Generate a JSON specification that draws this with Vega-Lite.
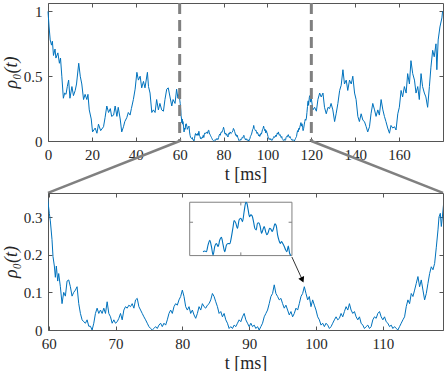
{
  "$schema": "https://vega.github.io/schema/vega-lite/v6.json",
  "padding": {"left": 1, "top": 1, "right": 3, "bottom": 0},
  "background": "white",
  "datasets": {
    "series": [
      {"t":0,"v":1.0},{"t":0.5,"v":0.88},{"t":1,"v":0.78},{"t":1.6,"v":0.74},{"t":2.0,"v":0.77},{"t":2.5,"v":0.66},{"t":3.2,"v":0.71},{"t":3.6,"v":0.64},{"t":4.5,"v":0.68},{"t":5.2,"v":0.6},{"t":5.7,"v":0.64},{"t":6.3,"v":0.5},{"t":7.0,"v":0.33},{"t":7.6,"v":0.37},{"t":8.2,"v":0.36},{"t":8.8,"v":0.42},{"t":9.4,"v":0.47},{"t":10.0,"v":0.33},{"t":10.9,"v":0.42},{"t":11.6,"v":0.35},{"t":12.4,"v":0.39},{"t":13.0,"v":0.44},{"t":14.0,"v":0.6},{"t":14.7,"v":0.5},{"t":15.4,"v":0.44},{"t":16.2,"v":0.32},{"t":16.9,"v":0.36},{"t":17.7,"v":0.32},{"t":18.2,"v":0.36},{"t":18.8,"v":0.24},{"t":19.7,"v":0.17},{"t":20.3,"v":0.07},{"t":21.5,"v":0.1},{"t":22.3,"v":0.06},{"t":23.0,"v":0.13},{"t":24.0,"v":0.08},{"t":25.3,"v":0.11},{"t":26.0,"v":0.18},{"t":26.8,"v":0.27},{"t":27.6,"v":0.22},{"t":28.4,"v":0.25},{"t":29.0,"v":0.19},{"t":29.9,"v":0.2},{"t":30.6,"v":0.27},{"t":31.4,"v":0.19},{"t":32.0,"v":0.26},{"t":32.9,"v":0.17},{"t":33.6,"v":0.07},{"t":34.4,"v":0.11},{"t":35.0,"v":0.15},{"t":35.9,"v":0.18},{"t":36.6,"v":0.22},{"t":37.4,"v":0.2},{"t":38.0,"v":0.25},{"t":38.9,"v":0.32},{"t":39.7,"v":0.4},{"t":40.5,"v":0.53},{"t":41.2,"v":0.47},{"t":42.0,"v":0.5},{"t":42.7,"v":0.41},{"t":43.5,"v":0.46},{"t":44.2,"v":0.41},{"t":45.3,"v":0.53},{"t":45.8,"v":0.42},{"t":46.5,"v":0.37},{"t":47.3,"v":0.22},{"t":48.0,"v":0.24},{"t":48.8,"v":0.22},{"t":49.5,"v":0.32},{"t":50.3,"v":0.24},{"t":51.0,"v":0.29},{"t":51.8,"v":0.24},{"t":52.6,"v":0.23},{"t":53.3,"v":0.32},{"t":54.1,"v":0.4},{"t":54.8,"v":0.41},{"t":55.6,"v":0.34},{"t":56.4,"v":0.27},{"t":57.0,"v":0.32},{"t":57.9,"v":0.29},{"t":58.6,"v":0.4},{"t":59.2,"v":0.33},{"t":59.75,"v":0.363},
      {"t":60.1,"v":0.31},{"t":60.25,"v":0.29},{"t":60.5,"v":0.24},{"t":60.65,"v":0.195},{"t":60.85,"v":0.17},{"t":61.0,"v":0.14},{"t":61.15,"v":0.17},{"t":61.35,"v":0.13},{"t":61.5,"v":0.15},{"t":61.75,"v":0.115},{"t":62.0,"v":0.07},{"t":62.25,"v":0.1},{"t":62.5,"v":0.09},{"t":62.75,"v":0.13},{"t":63.0,"v":0.133},{"t":63.25,"v":0.115},{"t":63.5,"v":0.09},{"t":63.75,"v":0.1},{"t":64.0,"v":0.106},{"t":64.25,"v":0.115},{"t":64.5,"v":0.07},{"t":64.75,"v":0.044},{"t":65.0,"v":0.027},{"t":65.25,"v":0.022},{"t":65.5,"v":0.018},{"t":65.75,"v":0.027},{"t":66.0,"v":0.01},{"t":66.25,"v":0.01},{"t":66.5,"v":0.0},{"t":66.75,"v":0.018},{"t":67.0,"v":0.044},{"t":67.25,"v":0.058},{"t":67.5,"v":0.044},{"t":67.75,"v":0.053},{"t":68.0,"v":0.044},{"t":68.25,"v":0.058},{"t":68.5,"v":0.044},{"t":68.75,"v":0.075},{"t":69.0,"v":0.044},{"t":69.25,"v":0.035},{"t":69.5,"v":0.018},{"t":69.75,"v":0.027},{"t":70.0,"v":0.018},{"t":70.25,"v":0.022},{"t":70.5,"v":0.031},{"t":70.75,"v":0.044},{"t":71.0,"v":0.027},{"t":71.25,"v":0.053},{"t":71.5,"v":0.062},{"t":71.75,"v":0.058},{"t":72.0,"v":0.066},{"t":72.25,"v":0.062},{"t":72.5,"v":0.07},{"t":72.75,"v":0.058},{"t":73.0,"v":0.08},{"t":73.25,"v":0.084},{"t":73.5,"v":0.062},{"t":73.75,"v":0.053},{"t":74.0,"v":0.044},{"t":74.25,"v":0.035},{"t":74.5,"v":0.027},{"t":74.75,"v":0.018},{"t":75.0,"v":0.009},{"t":75.25,"v":0.004},{"t":75.5,"v":0.0},{"t":75.75,"v":0.004},{"t":76.0,"v":0.009},{"t":76.25,"v":0.004},{"t":76.5,"v":0.013},{"t":76.75,"v":0.018},{"t":77.0,"v":0.009},{"t":77.25,"v":0.018},{"t":77.5,"v":0.013},{"t":77.75,"v":0.027},{"t":78.0,"v":0.044},{"t":78.25,"v":0.053},{"t":78.5,"v":0.044},{"t":78.75,"v":0.062},{"t":79.0,"v":0.07},{"t":79.25,"v":0.066},{"t":79.5,"v":0.08},{"t":79.75,"v":0.089},{"t":80.0,"v":0.106},{"t":80.25,"v":0.089},{"t":80.5,"v":0.062},{"t":80.75,"v":0.053},{"t":81.0,"v":0.062},{"t":81.25,"v":0.044},{"t":81.5,"v":0.053},{"t":81.75,"v":0.04},{"t":82.0,"v":0.031},{"t":82.25,"v":0.044},{"t":82.5,"v":0.062},{"t":82.75,"v":0.053},{"t":83.0,"v":0.07},{"t":83.25,"v":0.062},{"t":83.5,"v":0.058},{"t":83.75,"v":0.066},{"t":84.0,"v":0.07},{"t":84.25,"v":0.08},{"t":84.5,"v":0.097},{"t":84.75,"v":0.089},{"t":85.0,"v":0.075},{"t":85.25,"v":0.062},{"t":85.5,"v":0.044},{"t":85.75,"v":0.049},{"t":86.0,"v":0.035},{"t":86.25,"v":0.044},{"t":86.5,"v":0.027},{"t":86.75,"v":0.018},{"t":87.0,"v":0.004},{"t":87.25,"v":0.009},{"t":87.5,"v":0.004},{"t":87.75,"v":0.013},{"t":88.0,"v":0.009},{"t":88.25,"v":0.018},{"t":88.5,"v":0.027},{"t":88.75,"v":0.022},{"t":89.0,"v":0.035},{"t":89.25,"v":0.044},{"t":89.5,"v":0.027},{"t":89.75,"v":0.018},{"t":90.0,"v":0.009},{"t":90.25,"v":0.018},{"t":90.5,"v":0.009},{"t":90.75,"v":0.013},{"t":91.0,"v":0.004},{"t":91.25,"v":0.009},{"t":91.5,"v":0.0},{"t":91.75,"v":0.009},{"t":92.0,"v":0.018},{"t":92.25,"v":0.035},{"t":92.5,"v":0.044},{"t":92.75,"v":0.053},{"t":93.0,"v":0.07},{"t":93.25,"v":0.089},{"t":93.5,"v":0.097},{"t":93.75,"v":0.12},{"t":94.0,"v":0.097},{"t":94.25,"v":0.089},{"t":94.5,"v":0.08},{"t":94.75,"v":0.084},{"t":95.0,"v":0.07},{"t":95.25,"v":0.058},{"t":95.5,"v":0.066},{"t":95.75,"v":0.053},{"t":96.0,"v":0.04},{"t":96.25,"v":0.049},{"t":96.5,"v":0.035},{"t":96.75,"v":0.044},{"t":97.0,"v":0.058},{"t":97.25,"v":0.053},{"t":97.5,"v":0.07},{"t":97.75,"v":0.089},{"t":98.0,"v":0.097},{"t":98.25,"v":0.115},{"t":98.5,"v":0.097},{"t":98.75,"v":0.08},{"t":99.0,"v":0.089},{"t":99.25,"v":0.062},{"t":99.5,"v":0.08},{"t":99.75,"v":0.066},{"t":100.0,"v":0.053},{"t":100.25,"v":0.035},{"t":100.5,"v":0.027},{"t":100.75,"v":0.013},{"t":101.0,"v":0.018},{"t":101.25,"v":0.009},{"t":101.5,"v":0.018},{"t":101.75,"v":0.013},{"t":102.0,"v":0.004},{"t":102.25,"v":0.009},{"t":102.5,"v":0.018},{"t":102.75,"v":0.027},{"t":103.0,"v":0.035},{"t":103.25,"v":0.027},{"t":103.5,"v":0.031},{"t":103.75,"v":0.044},{"t":104.0,"v":0.035},{"t":104.25,"v":0.049},{"t":104.5,"v":0.062},{"t":104.75,"v":0.053},{"t":105.0,"v":0.07},{"t":105.25,"v":0.053},{"t":105.5,"v":0.044},{"t":105.75,"v":0.049},{"t":106.0,"v":0.035},{"t":106.25,"v":0.027},{"t":106.5,"v":0.035},{"t":106.75,"v":0.018},{"t":107.0,"v":0.013},{"t":107.25,"v":0.004},{"t":107.5,"v":0.009},{"t":107.75,"v":0.013},{"t":108.0,"v":0.004},{"t":108.25,"v":0.009},{"t":108.5,"v":0.027},{"t":108.75,"v":0.035},{"t":109.0,"v":0.031},{"t":109.25,"v":0.044},{"t":109.5,"v":0.049},{"t":109.75,"v":0.035},{"t":110.0,"v":0.027},{"t":110.25,"v":0.035},{"t":110.5,"v":0.022},{"t":110.75,"v":0.018},{"t":111.0,"v":0.009},{"t":111.25,"v":0.013},{"t":111.5,"v":0.004},{"t":111.75,"v":0.009},{"t":112.0,"v":0.004},{"t":112.25,"v":0.0},{"t":112.5,"v":0.009},{"t":112.75,"v":0.018},{"t":113.0,"v":0.027},{"t":113.25,"v":0.035},{"t":113.5,"v":0.062},{"t":113.75,"v":0.08},{"t":114.0,"v":0.07},{"t":114.25,"v":0.097},{"t":114.5,"v":0.089},{"t":114.75,"v":0.106},{"t":115.0,"v":0.124},{"t":115.25,"v":0.142},{"t":115.5,"v":0.115},{"t":115.75,"v":0.133},{"t":116.0,"v":0.106},{"t":116.25,"v":0.08},{"t":116.5,"v":0.097},{"t":116.75,"v":0.124},{"t":117.0,"v":0.15},{"t":117.25,"v":0.168},{"t":117.5,"v":0.16},{"t":117.75,"v":0.177},{"t":118.0,"v":0.22},{"t":118.25,"v":0.266},{"t":118.4,"v":0.3},{"t":118.6,"v":0.31},{"t":118.75,"v":0.275},{"t":118.9,"v":0.3},{"t":119.1,"v":0.337},{"t":119.3,"v":0.35},
      {"t":119.7,"v":0.3},{"t":120.0,"v":0.33},{"t":120.7,"v":0.24},{"t":121.5,"v":0.26},{"t":122.3,"v":0.23},{"t":123.0,"v":0.32},{"t":123.8,"v":0.37},{"t":124.5,"v":0.34},{"t":125.3,"v":0.37},{"t":126.0,"v":0.26},{"t":126.8,"v":0.21},{"t":127.6,"v":0.26},{"t":128.3,"v":0.25},{"t":129.0,"v":0.29},{"t":129.8,"v":0.24},{"t":130.6,"v":0.15},{"t":131.3,"v":0.21},{"t":132.1,"v":0.29},{"t":132.9,"v":0.39},{"t":133.6,"v":0.43},{"t":134.4,"v":0.55},{"t":135.1,"v":0.44},{"t":135.9,"v":0.47},{"t":136.6,"v":0.39},{"t":137.4,"v":0.47},{"t":138.2,"v":0.44},{"t":138.9,"v":0.5},{"t":139.7,"v":0.37},{"t":140.4,"v":0.32},{"t":141.2,"v":0.19},{"t":141.9,"v":0.15},{"t":142.7,"v":0.21},{"t":143.5,"v":0.16},{"t":144.2,"v":0.15},{"t":145.0,"v":0.11},{"t":145.7,"v":0.07},{"t":146.5,"v":0.11},{"t":147.2,"v":0.21},{"t":148.0,"v":0.29},{"t":148.8,"v":0.24},{"t":149.5,"v":0.19},{"t":150.3,"v":0.24},{"t":151.0,"v":0.2},{"t":151.8,"v":0.32},{"t":152.6,"v":0.24},{"t":153.3,"v":0.19},{"t":154.0,"v":0.15},{"t":154.8,"v":0.1},{"t":155.6,"v":0.06},{"t":156.3,"v":0.12},{"t":157.1,"v":0.1},{"t":157.9,"v":0.11},{"t":158.6,"v":0.085},{"t":159.4,"v":0.21},{"t":160.1,"v":0.26},{"t":160.9,"v":0.39},{"t":161.6,"v":0.34},{"t":162.4,"v":0.42},{"t":163.2,"v":0.37},{"t":163.9,"v":0.52},{"t":164.7,"v":0.44},{"t":165.4,"v":0.62},{"t":166.2,"v":0.52},{"t":167.0,"v":0.47},{"t":167.7,"v":0.37},{"t":168.5,"v":0.42},{"t":169.2,"v":0.32},{"t":170.0,"v":0.52},{"t":170.7,"v":0.42},{"t":171.5,"v":0.37},{"t":172.2,"v":0.34},{"t":173.0,"v":0.26},{"t":173.8,"v":0.42},{"t":174.5,"v":0.57},{"t":175.3,"v":0.7},{"t":176.0,"v":0.65},{"t":176.8,"v":0.75},{"t":177.2,"v":0.55},{"t":177.8,"v":0.78},{"t":178.6,"v":0.88},{"t":179.5,"v":0.95},{"t":179.8,"v":1.0}
    ],
    "inset": [
      {"t":83.1,"v":0.208},{"t":83.35,"v":0.21},{"t":83.6,"v":0.208},{"t":83.85,"v":0.226},{"t":84.1,"v":0.238},{"t":84.35,"v":0.222},{"t":84.6,"v":0.199},{"t":84.85,"v":0.222},{"t":85.1,"v":0.23},{"t":85.35,"v":0.222},{"t":85.6,"v":0.239},{"t":85.85,"v":0.246},{"t":86.1,"v":0.226},{"t":86.35,"v":0.208},{"t":86.6,"v":0.226},{"t":86.85,"v":0.23},{"t":87.1,"v":0.229},{"t":87.35,"v":0.248},{"t":87.6,"v":0.275},{"t":87.75,"v":0.291},{"t":88.0,"v":0.284},{"t":88.25,"v":0.27},{"t":88.5,"v":0.293},{"t":88.75,"v":0.297},{"t":89.0,"v":0.288},{"t":89.25,"v":0.315},{"t":89.5,"v":0.339},{"t":89.65,"v":0.337},{"t":89.85,"v":0.319},{"t":90.05,"v":0.301},{"t":90.25,"v":0.306},{"t":90.45,"v":0.303},{"t":90.65,"v":0.288},{"t":90.85,"v":0.27},{"t":91.05,"v":0.266},{"t":91.25,"v":0.284},{"t":91.45,"v":0.285},{"t":91.65,"v":0.275},{"t":91.85,"v":0.257},{"t":92.05,"v":0.266},{"t":92.25,"v":0.275},{"t":92.45,"v":0.262},{"t":92.65,"v":0.253},{"t":92.85,"v":0.259},{"t":93.05,"v":0.27},{"t":93.25,"v":0.268},{"t":93.45,"v":0.262},{"t":93.65,"v":0.27},{"t":93.85,"v":0.282},{"t":94.05,"v":0.277},{"t":94.25,"v":0.253},{"t":94.45,"v":0.239},{"t":94.65,"v":0.23},{"t":94.85,"v":0.235},{"t":95.05,"v":0.229},{"t":95.25,"v":0.222},{"t":95.45,"v":0.213},{"t":95.65,"v":0.208},{"t":95.85,"v":0.223},{"t":96.05,"v":0.204},{"t":96.25,"v":0.198}
    ]
  },
  "bounds": "flush",
  "spacing": 52,
  "vconcat": [
    {
      "width": 395,
      "height": 138,
      "resolve": {"axis": {"x": "independent", "y": "independent"}},
      "layer": [
        {
          "data": {"name": "series"},
          "mark": {"type": "line", "color": "#0072BD", "strokeWidth": 1},
          "encoding": {
            "x": {"field": "t", "type": "quantitative", "scale": {"domain": [0, 180], "nice": false, "zero": false},
                  "axis": {"values": [0, 20, 40, 60, 80, 100, 120, 140, 160], "format": "~f", "title": "t [ms]"}},
            "y": {"field": "v", "type": "quantitative", "scale": {"domain": [0, 1.065], "nice": false},
                  "axis": {"values": [0, 0.5, 1], "format": "~f", "title": "ρ₀(t)", "titleFontStyle": "italic"}}
          }
        },
        {
          "data": {"values": [{"t": 60}, {"t": 120}]},
          "mark": {"type": "rule", "color": "#808080", "strokeWidth": 3, "strokeDash": [11, 6]},
          "encoding": {
            "x": {"field": "t", "type": "quantitative", "scale": {"domain": [0, 180], "nice": false, "zero": false}, "axis": null},
            "y": {"datum": 1.065, "type": "quantitative", "scale": {"domain": [0, 1.065], "nice": false}, "axis": null},
            "y2": {"datum": 0}
          }
        },
        {
          "data": {"values": [{"t": 60, "v": 0, "t2": 0, "v2": -0.401}, {"t": 120, "v": 0, "t2": 180, "v2": -0.401}]},
          "mark": {"type": "rule", "color": "#808080", "strokeWidth": 2.5},
          "encoding": {
            "x": {"field": "t", "type": "quantitative", "scale": {"domain": [0, 180], "nice": false, "zero": false},
                  "axis": {"orient": "top", "labels": false, "title": null, "values": [0, 20, 40, 60, 80, 100, 120, 140, 160]}},
            "y": {"field": "v", "type": "quantitative", "scale": {"domain": [0, 1.065], "nice": false},
                  "axis": {"orient": "right", "labels": false, "title": null, "values": [0, 0.5, 1]}},
            "x2": {"field": "t2"},
            "y2": {"field": "v2"}
          }
        }
      ]
    },
    {
      "width": 395,
      "height": 137,
      "resolve": {"axis": {"x": "independent", "y": "independent"}},
      "layer": [
        {
          "data": {"name": "series"},
          "transform": [{"filter": "datum.t >= 59.5 && datum.t <= 119.5"}],
          "mark": {"type": "line", "color": "#0072BD", "strokeWidth": 1, "clip": true},
          "encoding": {
            "x": {"field": "t", "type": "quantitative", "scale": {"domain": [59.9, 119], "nice": false, "zero": false},
                  "axis": {"values": [60, 70, 80, 90, 100, 110], "format": "~f", "title": "t [ms]"}},
            "y": {"field": "v", "type": "quantitative", "scale": {"domain": [0, 0.364], "nice": false},
                  "axis": {"values": [0, 0.1, 0.2, 0.3], "format": "~f", "title": "ρ₀(t)", "titleFontStyle": "italic"}}
          }
        },
        {
          "data": {"values": [{"t": 81.1, "t2": 96.4, "v": 0.1977, "v2": 0.3395}]},
          "mark": {"type": "rect", "fill": "white", "stroke": "#808080", "strokeWidth": 1},
          "encoding": {
            "x": {"field": "t", "type": "quantitative", "scale": {"domain": [59.9, 119], "nice": false, "zero": false}, "axis": null},
            "x2": {"field": "t2"},
            "y": {"field": "v", "type": "quantitative", "scale": {"domain": [0, 0.364], "nice": false}, "axis": null},
            "y2": {"field": "v2"}
          }
        },
        {
          "data": {"values": [
            {"t": 88.75, "t2": 88.75, "v": 0.3395, "v2": 0.331},
            {"t": 88.75, "t2": 88.75, "v": 0.1977, "v2": 0.2062},
            {"t": 81.1, "t2": 81.6, "v": 0.2863, "v2": 0.2863},
            {"t": 96.4, "t2": 95.9, "v": 0.2863, "v2": 0.2863}
          ]},
          "mark": {"type": "rule", "color": "#808080", "strokeWidth": 1},
          "encoding": {
            "x": {"field": "t", "type": "quantitative", "scale": {"domain": [59.9, 119], "nice": false, "zero": false}, "axis": null},
            "x2": {"field": "t2"},
            "y": {"field": "v", "type": "quantitative", "scale": {"domain": [0, 0.364], "nice": false}, "axis": null},
            "y2": {"field": "v2"}
          }
        },
        {
          "data": {"name": "inset"},
          "mark": {"type": "line", "color": "#0072BD", "strokeWidth": 1.1, "interpolate": "monotone"},
          "encoding": {
            "x": {"field": "t", "type": "quantitative", "scale": {"domain": [59.9, 119], "nice": false, "zero": false}, "axis": null},
            "y": {"field": "v", "type": "quantitative", "scale": {"domain": [0, 0.364], "nice": false}, "axis": null}
          }
        },
        {
          "data": {"values": [{"t": 96.39, "v": 0.194, "t2": 97.96, "v2": 0.133}]},
          "mark": {"type": "rule", "color": "black", "strokeWidth": 0.8},
          "encoding": {
            "x": {"field": "t", "type": "quantitative", "scale": {"domain": [59.9, 119], "nice": false, "zero": false}, "axis": null},
            "x2": {"field": "t2"},
            "y": {"field": "v", "type": "quantitative", "scale": {"domain": [0, 0.364], "nice": false}, "axis": null},
            "y2": {"field": "v2"}
          }
        },
        {
          "data": {"values": [{"t": 97.96, "v": 0.133}]},
          "mark": {"type": "point", "shape": "triangle-down", "filled": true, "color": "black", "size": 40, "angle": 335, "opacity": 1},
          "encoding": {
            "x": {"field": "t", "type": "quantitative", "scale": {"domain": [59.9, 119], "nice": false, "zero": false}, "axis": null},
            "y": {"field": "v", "type": "quantitative", "scale": {"domain": [0, 0.364], "nice": false}, "axis": null}
          }
        },
        {
          "data": {"values": [{"t": 60, "v": 0}]},
          "mark": {"type": "point", "opacity": 0},
          "encoding": {
            "x": {"field": "t", "type": "quantitative", "scale": {"domain": [59.9, 119], "nice": false, "zero": false},
                  "axis": {"orient": "top", "labels": false, "title": null, "values": [60, 70, 80, 90, 100, 110]}},
            "y": {"field": "v", "type": "quantitative", "scale": {"domain": [0, 0.364], "nice": false},
                  "axis": {"orient": "right", "labels": false, "title": null, "values": [0, 0.1, 0.2, 0.3]}}
          }
        }
      ]
    }
  ],
  "config": {
    "font": "'Liberation Serif', 'Times New Roman', serif",
    "view": {"stroke": "#555555", "strokeWidth": 1},
    "axis": {
      "labelFont": "'Liberation Serif', 'Times New Roman', serif",
      "labelFontSize": 15,
      "labelColor": "#262626",
      "labelFlush": false,
      "titleFont": "'Liberation Serif', 'Times New Roman', serif",
      "titleFontSize": 18,
      "titleFontWeight": "normal",
      "titleColor": "#262626",
      "grid": false,
      "domain": false,
      "tickColor": "#555555",
      "tickSize": -4,
      "labelPadding": 10,
      "titlePadding": 3
    }
  }
}
